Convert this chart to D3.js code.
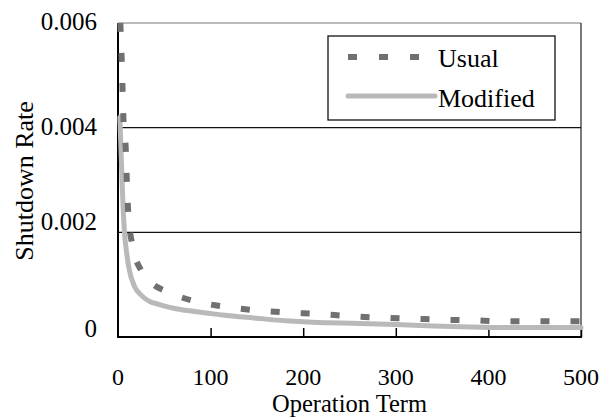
<!DOCTYPE html>
<html>
<head>
<meta charset="utf-8">
<script src="https://cdn.jsdelivr.net/npm/d3@7"></script>
<style>
  body { margin: 0; background: #fff; }
</style>
</head>
<body>
<div id="chart"></div>
<script>
// operation term vs shutdown rate
var usualTerm = [2.5, 4, 5, 6, 8.5, 9.5, 11, 15, 25, 35, 52, 70, 84, 100, 116, 149, 181, 217, 250, 283, 318, 350, 383, 415, 448, 481, 500];
var usualRate = [0.0060, 0.0053, 0.0047, 0.0041, 0.00355, 0.0030, 0.0024, 0.0018, 0.00127, 0.00105, 0.00087, 0.00075, 0.00068, 0.00062, 0.00058, 0.00051, 0.00047, 0.00044, 0.00040, 0.00037, 0.00035, 0.00033, 0.00032, 0.00030, 0.00030, 0.00030, 0.00030];

var modTerm = [2, 3, 4, 5, 6, 7, 9.4, 12, 18, 25, 34, 45, 60, 77, 95, 113, 149, 181, 210, 260, 300, 340, 380, 420, 460, 500];
var modRate = [0.0042, 0.0037, 0.0032, 0.0027, 0.0023, 0.0020, 0.0016, 0.0013, 0.00096, 0.0008, 0.00068, 0.00062, 0.00055, 0.0005, 0.00046, 0.00042, 0.00036, 0.00031, 0.00028, 0.00026, 0.00024, 0.00021, 0.00019, 0.00018, 0.00018, 0.00018];

var xTicks = [0, 100, 200, 300, 400, 500];
var yTicks = [0, 0.002, 0.004, 0.006];
var yTickLabels = ["0", "0.002", "0.004", "0.006"];
var seriesNames = ["Usual", "Modified"];

var FONT = "'Liberation Serif', Tinos, 'Times New Roman', serif";
var W = 603, H = 417;
var svg = d3.select("#chart").append("svg")
    .attr("width", W)
    .attr("height", H)
    .attr("font-family", FONT);

var x = d3.scaleLinear().domain([0, 500]).range([118, 581]);
var y = d3.scaleLinear().domain([0, 0.006]).range([337, 23]);
// the scanned figure's y labels are not quite even; baselines per tick
var yLabelPos = d3.scaleLinear().domain(yTicks).range([337, 230, 135, 30]);

// frame top + right (thin)
svg.append("line")
    .attr("x1", x(0)).attr("x2", x(500))
    .attr("y1", y(0.006)).attr("y2", y(0.006))
    .attr("stroke", "#777").attr("stroke-width", 1.2);
svg.append("line")
    .attr("x1", x(500)).attr("x2", x(500))
    .attr("y1", y(0.006)).attr("y2", y(0))
    .attr("stroke", "#333").attr("stroke-width", 1.3);

// gridlines
svg.selectAll("line.grid")
    .data([0.002, 0.004])
    .enter().append("line")
    .attr("class", "grid")
    .attr("x1", x(0)).attr("x2", x(500))
    .attr("y1", function(d) { return y(d); })
    .attr("y2", function(d) { return y(d); })
    .attr("stroke", "#111").attr("stroke-width", 1.3);

// x axis, ticks point up into the plot
var xAxis = svg.append("g")
    .attr("transform", "translate(0," + y(0) + ")")
    .call(d3.axisTop(x).tickValues(xTicks.slice(1)).tickSize(9).tickFormat(""));
xAxis.select(".domain").remove();
xAxis.selectAll(".tick line").attr("stroke", "#000").attr("stroke-width", 1.5);

svg.append("line")
    .attr("x1", x(0) - 1).attr("x2", x(500) + 1)
    .attr("y1", y(0)).attr("y2", y(0))
    .attr("stroke", "#000").attr("stroke-width", 2);
svg.append("line")
    .attr("x1", x(0)).attr("x2", x(0))
    .attr("y1", y(0.006)).attr("y2", y(0) + 1)
    .attr("stroke", "#000").attr("stroke-width", 2);

// tick labels
svg.selectAll("text.xlab")
    .data(xTicks)
    .enter().append("text")
    .attr("class", "xlab")
    .attr("x", function(d) { return x(d); })
    .attr("y", 384.5)
    .attr("text-anchor", "middle")
    .attr("font-size", "24px")
    .text(function(d) { return d; });

svg.selectAll("text.ylab")
    .data(yTicks)
    .enter().append("text")
    .attr("class", "ylab")
    .attr("x", 97)
    .attr("y", function(d) { return yLabelPos(d); })
    .attr("text-anchor", "end")
    .attr("font-size", "25px")
    .text(function(d, i) { return yTickLabels[i]; });

// axis titles
svg.append("text")
    .attr("x", x(250))
    .attr("y", 412)
    .attr("text-anchor", "middle")
    .attr("font-size", "24.5px")
    .text("Operation Term");

svg.append("text")
    .attr("transform", "translate(33,181) rotate(-90)")
    .attr("text-anchor", "middle")
    .attr("font-size", "26px")
    .text("Shutdown Rate");

// curves
var line = d3.line()
    .x(function(d) { return x(d[0]); })
    .y(function(d) { return y(d[1]); })
    .curve(d3.curveMonotoneX);

svg.append("path")
    .datum(d3.zip(modTerm, modRate))
    .attr("d", line)
    .attr("fill", "none")
    .attr("stroke", "#b9b9b9")
    .attr("stroke-width", 5)
    .attr("stroke-linecap", "round");

svg.append("path")
    .datum(d3.zip(usualTerm, usualRate))
    .attr("d", line)
    .attr("fill", "none")
    .attr("stroke", "#707070")
    .attr("stroke-width", 6)
    .attr("stroke-dasharray", "9,21");

// legend
var lg = svg.append("g");
lg.append("rect")
    .attr("x", 328).attr("y", 36)
    .attr("width", 227).attr("height", 84)
    .attr("fill", "#fff")
    .attr("stroke", "#111").attr("stroke-width", 1.3);
lg.append("line")
    .attr("x1", 348).attr("x2", 432)
    .attr("y1", 57).attr("y2", 57)
    .attr("stroke", "#707070").attr("stroke-width", 6)
    .attr("stroke-dasharray", "9,22");
lg.append("line")
    .attr("x1", 348).attr("x2", 435)
    .attr("y1", 96).attr("y2", 96)
    .attr("stroke", "#b9b9b9").attr("stroke-width", 5)
    .attr("stroke-linecap", "round");
lg.selectAll("text.leg")
    .data(seriesNames)
    .enter().append("text")
    .attr("class", "leg")
    .attr("x", 438)
    .attr("y", function(d, i) { return 67 + i * 40; })
    .attr("font-size", "26px")
    .text(function(d) { return d; });
</script>
</body>
</html>
